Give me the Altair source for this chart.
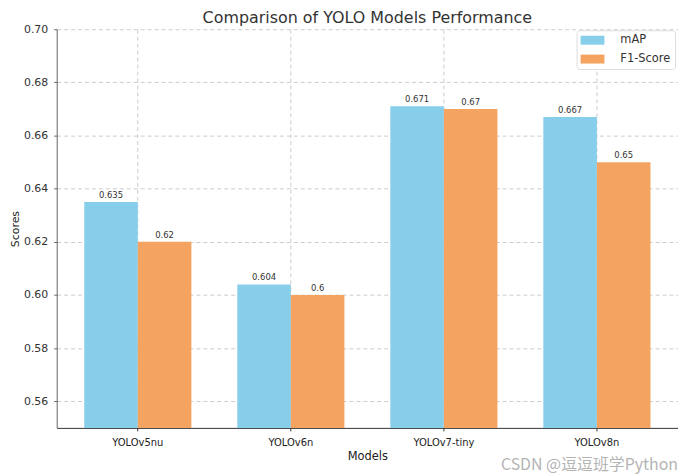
import altair as alt
import pandas as pd

models = ["YOLOv5nu", "YOLOv6n", "YOLOv7-tiny", "YOLOv8n"]
map_vals = [0.635, 0.604, 0.671, 0.667]
f1_vals = [0.62, 0.6, 0.67, 0.65]
metrics = ["mAP", "F1-Score"]
colors = ["#87CEEB", "#F4A460"]
y_ticks = [0.56, 0.58, 0.60, 0.62, 0.64, 0.66, 0.68, 0.70]

rows = []
for m, a, f in zip(models, map_vals, f1_vals):
    rows.append({"Model": m, "Metric": "mAP", "Score": a})
    rows.append({"Model": m, "Metric": "F1-Score", "Score": f})
df = pd.DataFrame(rows)

FONT = "DejaVu Sans"

x_enc = alt.X(
    "Model:N",
    sort=models,
    scale=alt.Scale(paddingInner=0.3, paddingOuter=0.18),
    axis=alt.Axis(
        title="Models", labelAngle=0, labelFontSize=10, titleFontSize=11.5,
        labelFont=FONT, titleFont=FONT, labelColor="#222", titleColor="#222",
        titleFontWeight="normal", bandPosition=0.5, grid=True,
        gridDash=[4, 3], gridColor="#cccccc", gridWidth=1,
        tickSize=3, tickColor="#333", domainColor="#333", labelPadding=7,
        titlePadding=3,
    ),
)
xo_enc = alt.XOffset("Metric:N", sort=metrics)
y_enc = alt.Y(
    "Score:Q",
    scale=alt.Scale(domain=[0.55, 0.70], nice=False, zero=False),
    axis=alt.Axis(
        title="Scores", values=y_ticks, format=".2f", labelFontSize=11,
        titleFontSize=11, labelFont=FONT, titleFont=FONT,
        labelColor="#333", titleColor="#222", titleFontWeight="normal",
        grid=True, gridDash=[4, 3], gridColor="#cccccc", gridWidth=1,
        tickSize=3, tickColor="#666", domainColor="#666", labelPadding=6,
        titlePadding=3,
    ),
)
color_enc = alt.Color(
    "Metric:N",
    sort=metrics,
    scale=alt.Scale(domain=metrics, range=colors),
    legend=alt.Legend(
        title=None, orient="none", legendX=523, legendY=1,
        symbolType="M-2,-0.75H2V0.75H-2Z", symbolSize=144, symbolOffset=6,
        symbolStrokeWidth=0, labelFontSize=11.5, labelFont=FONT,
        labelColor="#333", fillColor="white", strokeColor="#dddddd",
        padding=4, cornerRadius=3, rowPadding=7, labelOffset=22,
    ),
)

bars = alt.Chart(df).mark_bar(clip=True).encode(
    x=x_enc, xOffset=xo_enc, y=y_enc, color=color_enc
)
labels = alt.Chart(df).mark_text(
    dy=-7, fontSize=8.5, font=FONT, color="#333"
).encode(
    x=alt.X("Model:N", sort=models), xOffset=xo_enc, y="Score:Q",
    text="Score:Q",
)
watermark = alt.Chart(pd.DataFrame({"t": ["CSDN @逗逗班学Python"]})).mark_text(
    align="right", baseline="alphabetic", fontSize=16,
    font="Noto Sans CJK SC", color="#b4b4b4",
).encode(x=alt.value(625), y=alt.value(443), text="t:N")

chart = alt.layer(bars, labels, watermark).properties(
    width=625, height=401,
    title=alt.TitleParams(
        "Comparison of YOLO Models Performance", fontSize=16, font=FONT,
        fontWeight="normal", color="#333", anchor="middle",
        baseline="alphabetic", offset=0, dy=16,
    ),
    autosize=alt.AutoSizeParams(type="none"),
    padding={"left": 49, "top": 20, "right": 0, "bottom": 46},
).configure_view(stroke=None)

chart.save("out.html", embed_options={"renderer": "svg", "actions": False})
